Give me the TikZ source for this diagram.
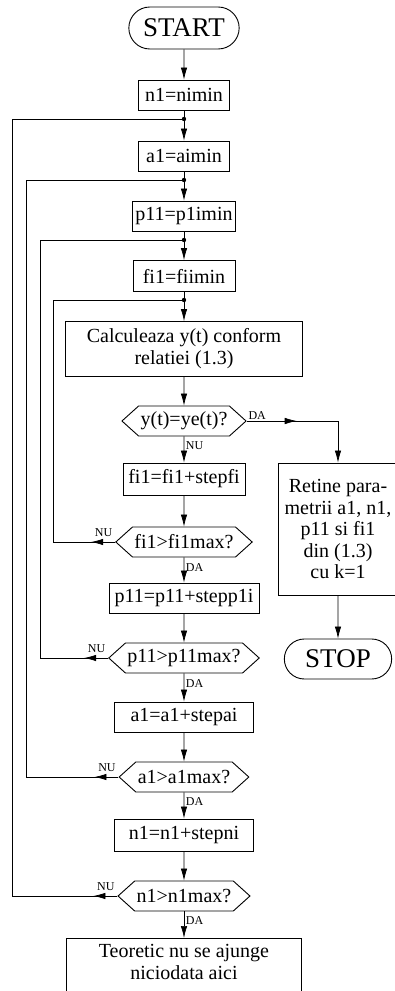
\documentclass[tikz,border=0pt]{standalone}
\usepackage{fontspec}
\setmainfont{Liberation Serif}
\usetikzlibrary{shapes.misc,shapes.symbols,arrows.meta}
\tikzset{
  proc/.style={draw, rectangle, line width=0.9pt, minimum height=30pt, inner sep=3pt,
    align=center, font=\fontsize{20}{22}\selectfont},
  term/.style={draw, rounded rectangle, line width=0.9pt, minimum height=42pt,
    font=\fontsize{27}{29}\selectfont},
  test/.style={draw, signal, signal to=east and west, signal pointer angle=84,
    line width=0.9pt, minimum height=30pt, inner sep=2pt, font=\fontsize{20}{22}\selectfont},
  arr/.style={-{Latex[length=12pt,width=6.5pt]}},
  lbl/.style={font=\fontsize{12}{14}\selectfont, inner sep=1.5pt},
  nolbl/.style={lbl, above left, yshift=4pt, xshift=-1pt},
}
\begin{document}
\begin{tikzpicture}[x=1pt, y=-1pt, line width=0.7pt]
  \useasboundingbox (0,0) rectangle (395,991);
  % main column
  \node[term, minimum width=117pt] (start) at (184,28) {START};
  \node[proc, minimum width=91pt] (n1init) at (184,95) {n1=nimin};
  \node[proc, minimum width=91pt] (a1init) at (184,156) {a1=aimin};
  \node[proc, minimum width=102pt] (p11init) at (184,216) {p11=p1imin};
  \node[proc, minimum width=102pt, minimum height=31pt] (fi1init) at (184,276) {fi1=fiimin};
  \node[proc, minimum width=237pt, minimum height=55pt] (calc) at (184,349) {Calculeaza y(t) conform\\relatiei (1.3)};
  \node[test, minimum width=115pt] (ytest) at (184,421) {y(t)=ye(t)?};
  \node[proc, minimum width=122pt, minimum height=32pt] (fi1step) at (184,479) {fi1=fi1+stepfi};
  \node[test, minimum width=128pt] (fi1test) at (184,542) {fi1>fi1max?};
  \node[proc, minimum width=150pt] (p11step) at (184,598) {p11=p11+stepp1i};
  \node[test, minimum width=140pt] (p11test) at (184,658) {p11>p11max?};
  \node[proc, minimum width=139pt] (a1step) at (184,717) {a1=a1+stepai};
  \node[test, minimum width=129pt] (a1test) at (184,777) {a1>a1max?};
  \node[proc, minimum width=139pt, minimum height=32pt] (n1step) at (184,835) {n1=n1+stepni};
  \node[test, minimum width=128pt] (n1test) at (184,896) {n1>n1max?};
  \node[proc, anchor=north, minimum width=235pt, inner ysep=6pt, text depth=45pt] (never) at (184,938) {Teoretic nu se ajunge\\niciodata aici};
  % right column
  \node[proc, minimum width=120pt, minimum height=132pt, font=\fontsize{20}{21.5}\selectfont] (keep) at (338,529) {Retine para-\\metrii a1, n1,\\p11 si fi1\\din (1.3)\\cu k=1};
  \node[term, minimum width=114pt, minimum height=40pt] (stop) at (338,659) {STOP};
  % junctions and loop columns
  \coordinate (j1) at (184,119);
  \coordinate (j2) at (184,180);
  \coordinate (j3) at (184,240);
  \coordinate (j4) at (184,300);
  \coordinate (c1) at (12,0);
  \coordinate (c2) at (26,0);
  \coordinate (c3) at (40,0);
  \coordinate (c4) at (53,0);
  % forward arrows
  \draw[arr] (start) -- (n1init);
  \draw[arr] (n1init) -- (a1init);
  \draw[arr] (a1init) -- (p11init);
  \draw[arr] (p11init) -- (fi1init);
  \draw[arr] (fi1init) -- (calc);
  \draw[arr] (calc) -- (ytest);
  \draw[arr] (ytest) -- (fi1step) node[lbl, right, pos=0.35] {NU};
  \draw[arr] (fi1step) -- (fi1test);
  \draw[arr] (fi1test) -- (p11step) node[lbl, right, pos=0.4] {DA};
  \draw[arr] (p11step) -- (p11test);
  \draw[arr] (p11test) -- (a1step) node[lbl, right, pos=0.35] {DA};
  \draw[arr] (a1step) -- (a1test);
  \draw[arr] (a1test) -- (n1step) node[lbl, right, pos=0.35] {DA};
  \draw[arr] (n1step) -- (n1test);
  \draw[arr] (n1test) -- (never) node[lbl, right, pos=0.35] {DA};
  % found
  \draw[arr] (ytest.east) -- ++(50,0);
  \draw[arr] (ytest.east) node[lbl, above right] {DA} -| (keep.north);
  \draw[arr] (keep) -- (stop);
  % loops back
  \draw[arr] (fi1test.west) -- ++(-24,0);
  \draw (fi1test.west) node[nolbl] {NU} -- (fi1test.west -| c4) |- (j4);
  \draw[arr] (p11test.west) -- ++(-24,0);
  \draw (p11test.west) node[nolbl] {NU} -- (p11test.west -| c3) |- (j3);
  \draw[arr] (a1test.west) -- ++(-24,0);
  \draw (a1test.west) node[nolbl] {NU} -- (a1test.west -| c2) |- (j2);
  \draw[arr] (n1test.west) -- ++(-24,0);
  \draw (n1test.west) node[nolbl] {NU} -- (n1test.west -| c1) |- (j1);
  \foreach \j in {j1,j2,j3,j4}{
    \fill (\j) circle (2.2pt);
  }
\end{tikzpicture}
\end{document}
